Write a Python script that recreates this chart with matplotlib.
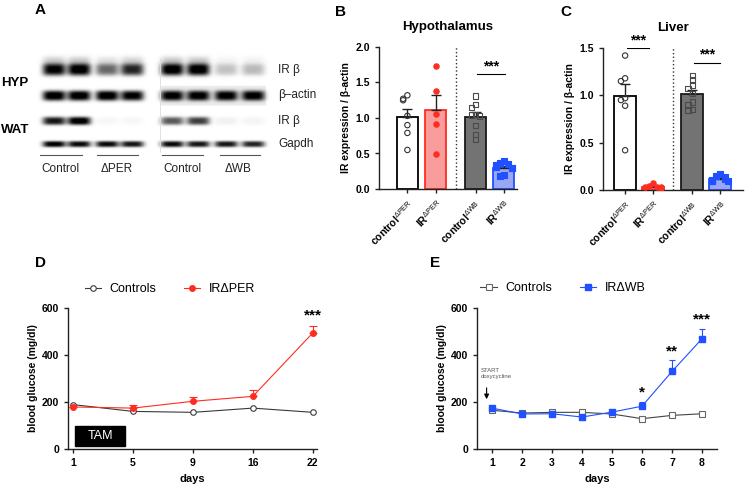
import numpy as np
import matplotlib
matplotlib.use("Agg")
import matplotlib.pyplot as plt
from matplotlib.patches import Rectangle
from matplotlib.lines import Line2D

plt.rcParams['font.family'] = ['Liberation Sans', 'DejaVu Sans']
plt.rcParams['mathtext.fontset'] = 'custom'
plt.rcParams['mathtext.rm'] = 'Liberation Sans'
plt.rcParams['mathtext.bf'] = 'Liberation Sans:bold'
plt.rcParams['mathtext.it'] = 'Liberation Sans:italic'

# ---------------- data ----------------
# western blot band intensities (lanes: ctrl, ctrl, ko, ko)
hyp_ir_left = [0.95, 1.0, 0.55, 0.8]
hyp_ir_right = [1.0, 1.0, 0.22, 0.25]
hyp_actin_left = [1.0, 1.0, 1.0, 0.95]
hyp_actin_right = [0.9, 0.9, 0.9, 0.9]
wat_ir_left = [0.85, 1.0, 0.03, 0.03]
wat_ir_right = [0.6, 0.7, 0.05, 0.04]
wat_gapdh_left = [0.95, 0.9, 0.9, 0.85]
wat_gapdh_right = [0.9, 0.85, 0.85, 0.8]
blot_rows = ['IR β', 'β–actin', 'IR β', 'Gapdh']
blot_groups = ['Control', 'ΔPER', 'Control', 'ΔWB']

bar_labels = [r'$\mathbf{control}^{\mathrm{ΔPER}}$', r'$\mathbf{IR}^{\mathrm{ΔPER}}$',
              r'$\mathbf{control}^{\mathrm{ΔWB}}$', r'$\mathbf{IR}^{\mathrm{ΔWB}}$']

hyp_ctrl_per = [1.32, 1.27, 1.25, 1.03, 0.90, 0.79, 0.55]
hyp_ir_per = [1.73, 1.38, 1.05, 0.91, 0.49]
hyp_ctrl_wb = [1.31, 1.19, 1.15, 1.05, 1.04, 1.03, 0.89, 0.77, 0.70]
hyp_ir_wb = [0.39, 0.36, 0.35, 0.34, 0.31, 0.30, 0.29, 0.20, 0.18]

liv_ctrl_per = [1.42, 1.18, 1.15, 0.97, 0.95, 0.89, 0.42]
liv_ir_per = [0.07, 0.04, 0.03, 0.03, 0.03, 0.02]
liv_ctrl_wb = [1.21, 1.16, 1.11, 1.07, 1.02, 0.93, 0.90, 0.85, 0.84]
liv_ir_wb = [0.17, 0.15, 0.14, 0.12, 0.11, 0.10, 0.09, 0.09]

d_days = ['1', '5', '9', '16', '22']
d_ctrl = [189, 160, 156, 174, 156]
d_ko = [179, 174, 203, 224, 494]
d_ko_err = [0, 15, 18, 26, 31]
d_stars = ['', '', '', '', '***']

e_days = [1, 2, 3, 4, 5, 6, 7, 8]
e_ctrl = [165, 153, 156, 156, 149, 129, 143, 150]
e_ctrl_err = [5, 4, 5, 4, 5, 4, 5, 6]
e_ko = [174, 149, 150, 136, 157, 182, 330, 469]
e_ko_err = [5, 4, 4, 4, 5, 17, 47, 43]
e_stars = ['', '', '', '', '', '*', '**', '***']

# ---------------- layout helpers ----------------
W, H = 745, 486
fig = plt.figure(figsize=(W / 100, H / 100), dpi=100)


def px(l, t, r, b):
    return [l / W, 1 - b / H, (r - l) / W, (b - t) / H]


def ftext(x, y, s, **kw):
    fig.text(x / W, 1 - y / H, s, **kw)


JITTER = [0, -0.15, 0.15, -0.28, 0.28, -0.07, 0.07, -0.22, 0.22]


def spread(vals, tol):
    offs, placed = [], []
    for v in vals:
        n = sum(1 for p in placed if abs(p - v) < tol)
        offs.append(JITTER[n % len(JITTER)])
        placed.append(v)
    return np.array(offs)


def style_axes(ax):
    for s in ['top', 'right']:
        ax.spines[s].set_visible(False)
    for s in ['left', 'bottom']:
        ax.spines[s].set_linewidth(1.0)
        ax.spines[s].set_color('#222222')
    ax.tick_params(length=3, width=1, color='#222222', labelsize=7.5)
    for lab in ax.get_xticklabels() + ax.get_yticklabels():
        lab.set_fontweight('bold')


# ---------------- panel A: blot ----------------
axA = fig.add_axes(px(0, 0, 330, 200))
axA.set_xlim(0, 330)
axA.set_ylim(200, 0)
axA.axis('off')

xx, yy = np.meshgrid(np.arange(30, 275, 0.5), np.arange(50, 160, 0.5))
canvas = np.zeros_like(xx)
left_lanes = [54, 79, 107, 132]
right_lanes = [172, 198, 226, 253]
rows = [(70, 12, 11.5, hyp_ir_left, hyp_ir_right, True),
        (96, 10, 11.5, hyp_actin_left, hyp_actin_right, False),
        (121, 8, 11.5, wat_ir_left, wat_ir_right, False),
        (144, 6, 11.5, wat_gapdh_left, wat_gapdh_right, False)]
for yc, h, hw, lv, rv, smear in rows:
    for lanes, vals in [(left_lanes, lv), (right_lanes, rv)]:
        for xc, v in zip(lanes, vals):
            prof = np.exp(-((xx - xc) / hw) ** 4) * np.exp(-np.abs((yy - yc) / (h / 2)) ** 3)
            canvas += v * prof
            if smear:
                canvas += 0.18 * v * np.exp(-((xx - xc) / hw) ** 4) * np.exp(-((yy - yc + 9) / 4) ** 2)
# grey background of right actin strip
mask = (xx > 160) & (xx < 266) & (yy > 86) & (yy < 106)
canvas += 0.07 * mask
canvas = np.clip(canvas, 0, 1)
axA.imshow(canvas, cmap='gray_r', vmin=0, vmax=0.92, extent=(30, 275, 160, 50),
           interpolation='bilinear', aspect='auto', zorder=1)
axA.plot([160, 160], [58, 152], color='#dddddd', lw=0.6)
for x0, x1 in [(40, 82), (97, 138), (162, 203), (220, 260)]:
    axA.plot([x0, x1], [155, 155], color='#555555', lw=0.8)
for xc, s in zip([60, 117, 182, 238], blot_groups):
    axA.text(xc, 169, s, ha='center', va='center', fontsize=8.5, color='#222222')
for yc, s in zip([70, 95, 121, 144], blot_rows):
    axA.text(278, yc, s, ha='left', va='center', fontsize=8.5, color='#222222')
axA.text(1, 83, 'HYP', ha='left', va='center', fontsize=9.5, fontweight='bold')
axA.text(1, 130, 'WAT', ha='left', va='center', fontsize=9.5, fontweight='bold')
ftext(35, 10, 'A', fontsize=11, fontweight='bold', ha='left', va='center')

# ---------------- panels B and C: bars ----------------
bar_x = np.array([0, 1, 2.4, 3.4])
fills = ['white', '#f89c9c', '#737373', '#9aa6f6']
edges = ['black', '#ff2d20', '#1a1a1a', '#2050ff']
pt_face = ['none', '#ff2d20', 'none', '#2050ff']
pt_edge = ['#333333', '#ff2d20', '#4a4a4a', '#2050ff']
pt_mark = ['o', 'o', 's', 's']


def bar_panel(ax, groups, width, ymax, tol):
    for i, vals in enumerate(groups):
        vals = np.array(vals)
        m = vals.mean()
        sem = vals.std(ddof=1) / np.sqrt(len(vals))
        ax.bar(bar_x[i], m, width, color=fills[i], edgecolor=edges[i], linewidth=1.3, zorder=2)
        ax.errorbar(bar_x[i], m, yerr=[[0], [sem]], color='#222222', capsize=3.5,
                    elinewidth=1, capthick=1, zorder=2.5)
        off = spread(vals, tol)
        ax.scatter(bar_x[i] + off, vals, s=15, marker=pt_mark[i], facecolors=pt_face[i],
                   edgecolors=pt_edge[i], linewidths=0.8, zorder=3)
    ax.axvline(1.7, ymin=0, ymax=1, color='#333333', ls=':', lw=1)
    ax.set_ylim(0, ymax)
    ax.set_xticks(bar_x)
    ax.set_xticklabels(bar_labels, rotation=45, ha='right', rotation_mode='anchor', fontsize=7.5)
    ax.set_ylabel('IR expression / β-actin', fontsize=7.5, fontweight='bold', labelpad=3)
    style_axes(ax)


def sig(ax, x0, x1, y, ys, s):
    ax.plot([x0, x1], [y, y], color='black', lw=0.8)
    ax.text((x0 + x1) / 2, ys, s, ha='center', va='center', fontsize=10, fontweight='bold')


axB = fig.add_axes(px(379, 47, 517, 189))
axB.set_xlim(-1.0, 3.86)
bar_panel(axB, [hyp_ctrl_per, hyp_ir_per, hyp_ctrl_wb, hyp_ir_wb], 0.74, 2.0, 0.07)
axB.set_yticks([0, 0.5, 1.0, 1.5, 2.0])
axB.set_yticklabels(['0.0', '0.5', '1.0', '1.5', '2.0'], fontweight='bold')
sig(axB, 2.45, 3.45, 1.62, 1.72, '***')
axB.set_title('Hypothalamus', fontsize=9.5, fontweight='bold', pad=12)
ftext(335, 12, 'B', fontsize=11, fontweight='bold', ha='left', va='center')

axC = fig.add_axes(px(603, 48, 743, 190))
axC.set_xlim(-0.79, 4.21)
bar_panel(axC, [liv_ctrl_per, liv_ir_per, liv_ctrl_wb, liv_ir_wb], 0.78, 1.5, 0.045)
axC.set_yticks([0, 0.5, 1.0, 1.5])
axC.set_yticklabels(['0.0', '0.5', '1.0', '1.5'], fontweight='bold')
sig(axC, 0.05, 0.85, 1.50, 1.58, '***')
sig(axC, 2.45, 3.4, 1.34, 1.43, '***')
axC.set_title('Liver', fontsize=9.5, fontweight='bold', pad=12)
ftext(560, 12, 'C', fontsize=11, fontweight='bold', ha='left', va='center')

# ---------------- panel D ----------------
axD = fig.add_axes(px(68, 308, 317, 449))
xd = np.arange(len(d_days))
axD.plot(xd, d_ctrl, color='#3a3a3a', lw=0.8, marker='o', ms=4, mfc='white',
         mec='#3a3a3a', mew=0.8, zorder=3)
axD.errorbar(xd, d_ko, yerr=[np.zeros(len(d_ko)), d_ko_err], color='#ff2d20', lw=0.8,
             marker='o', ms=4, capsize=3, elinewidth=0.8, capthick=0.8, zorder=4)
for x, y, e, s in zip(xd, d_ko, d_ko_err, d_stars):
    if s:
        axD.text(x, y + e + 45, s, ha='center', va='center', fontsize=11, fontweight='bold')
axD.add_patch(Rectangle((0.03, 11), 0.84, 88, color='black', zorder=2))
axD.text(0.45, 55, 'TAM', color='white', ha='center', va='center', fontsize=9)
axD.set_xlim(-0.083, 4.07)
axD.set_ylim(0, 600)
axD.set_xticks(xd)
axD.set_xticklabels(d_days)
axD.set_yticks([0, 200, 400, 600])
axD.set_xlabel('days', fontsize=8, fontweight='bold', labelpad=4)
axD.set_ylabel('blood glucose (mg/dl)', fontsize=7.5, fontweight='bold', labelpad=3)
style_axes(axD)
hD = [Line2D([], [], color='#3a3a3a', lw=0.8, marker='o', ms=4, mfc='white', mec='#3a3a3a', mew=0.8),
      Line2D([], [], color='#ff2d20', lw=0.8, marker='o', ms=4)]
fig.legend(hD, ['Controls', 'IRΔPER'], loc='center', bbox_to_anchor=(170 / W, 1 - 289 / H),
           ncol=2, frameon=False, fontsize=9, handlelength=1.3, handletextpad=0.7, columnspacing=2.2)
ftext(35, 263, 'D', fontsize=11, fontweight='bold', ha='left', va='center')

# ---------------- panel E ----------------
axE = fig.add_axes(px(477, 308, 717, 449))
axE.errorbar(e_days, e_ctrl, yerr=[np.zeros(len(e_ctrl)), e_ctrl_err], color='#444444', lw=0.8,
             marker='s', ms=4, mfc='white', mec='#666666', mew=0.8, capsize=2.5,
             elinewidth=0.8, capthick=0.8, zorder=3)
axE.errorbar(e_days, e_ko, yerr=[np.zeros(len(e_ko)), e_ko_err], color='#2050ff', lw=0.8,
             marker='s', ms=4, capsize=2.5, elinewidth=0.8, capthick=0.8, zorder=4)
for x, y, e, s in zip(e_days, e_ko, e_ko_err, e_stars):
    if s:
        axE.text(x, y + e + 40, s, ha='center', va='center', fontsize=11, fontweight='bold')
axE.annotate('', xy=(0.82, 200), xytext=(0.82, 272),
             arrowprops=dict(arrowstyle='-|>', color='black', lw=0.8, mutation_scale=7))
axE.text(0.63, 322, 'START\ndoxycycline', ha='left', va='center', fontsize=4.3,
         color='#555555', linespacing=1.3)
axE.set_xlim(0.5, 8.5)
axE.set_ylim(0, 600)
axE.set_xticks(e_days)
axE.set_yticks([0, 200, 400, 600])
axE.set_xlabel('days', fontsize=8, fontweight='bold', labelpad=4)
axE.set_ylabel('blood glucose (mg/dl)', fontsize=7.5, fontweight='bold', labelpad=3)
style_axes(axE)
hE = [Line2D([], [], color='#444444', lw=0.8, marker='s', ms=4, mfc='white', mec='#666666', mew=0.8),
      Line2D([], [], color='#2050ff', lw=0.8, marker='s', ms=4)]
fig.legend(hE, ['Controls', 'IRΔWB'], loc='center', bbox_to_anchor=(563 / W, 1 - 288 / H),
           ncol=2, frameon=False, fontsize=9, handlelength=1.3, handletextpad=0.7, columnspacing=2.2)
ftext(430, 263, 'E', fontsize=11, fontweight='bold', ha='left', va='center')

fig.savefig('out.png', dpi=100)
